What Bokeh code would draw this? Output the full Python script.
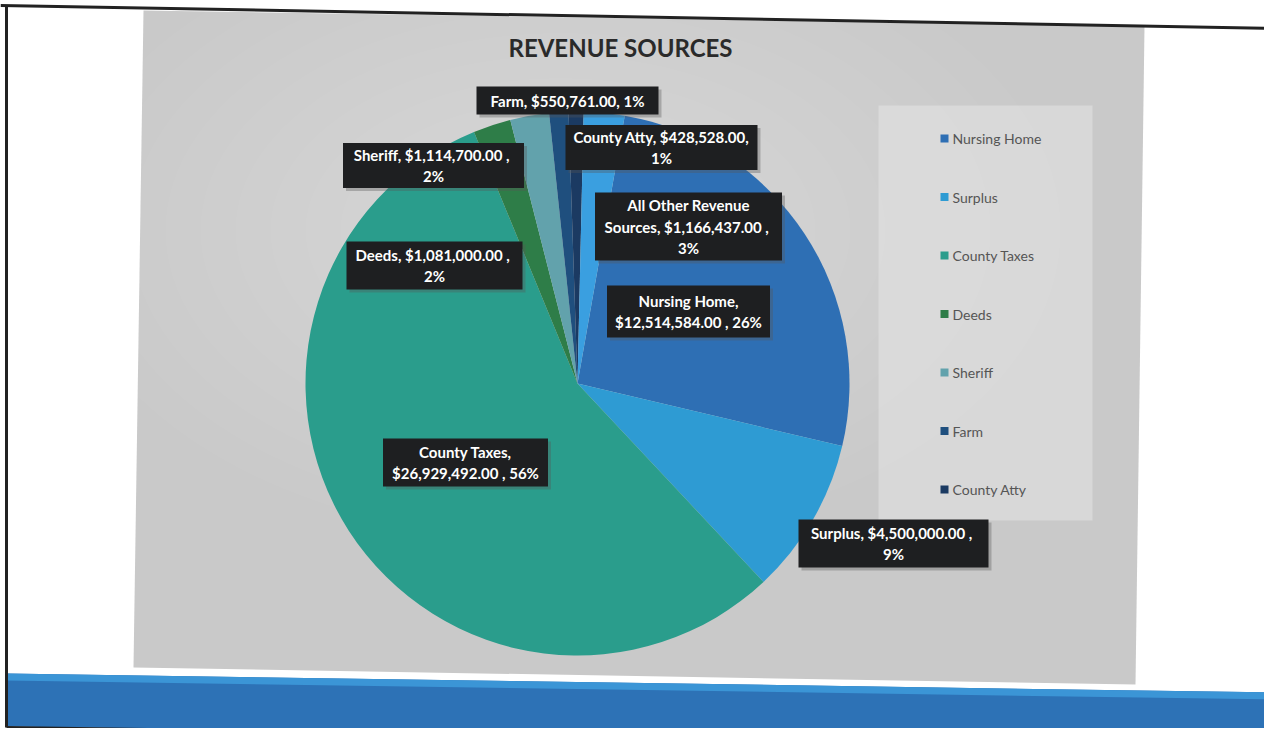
import numpy as np
from bokeh.plotting import figure
from bokeh.models import Range1d, ColumnDataSource
from bokeh.core.properties import value
from bokeh.embed import file_html
from bokeh.resources import INLINE

# ---------------- data ----------------
categories = ["Nursing Home", "Surplus", "County Taxes", "Deeds", "Sheriff",
              "Farm", "County Atty", "All Other Revenue Sources"]
amounts = [12514584.00, 4500000.00, 26929492.00, 1081000.00, 1114700.00,
           550761.00, 428528.00, 1166437.00]
percent_labels = [26, 9, 56, 2, 2, 1, 1, 3]
legend_items = ["Nursing Home", "Surplus", "County Taxes", "Deeds", "Sheriff",
                "Farm", "County Atty"]
title_text = "REVENUE SOURCES"

# ---------------- style ----------------
colors = ["#2E6FB4", "#2E9BD3", "#2A9D8C", "#2E7D48", "#62A2AC",
          "#1F4F7E", "#1B3A62", "#3A9FE0"]
FONT = "Lato"
W, H = 1264, 728


def Y(sy):
    # screenshot pixel row -> data y
    return 744 - sy


p = figure(width=W, height=H, x_range=Range1d(0, W), y_range=Range1d(744 - H, 744),
           output_backend="svg", toolbar_location=None, min_border=0)
p.axis.visible = False
p.grid.visible = False
p.outline_line_color = None
p.background_fill_color = "white"
p.border_fill_color = "white"

# ---------------- slide backdrop (photo of a slide) ----------------
p.patch([143, 1144, 1135, 133], [Y(10), Y(26), Y(684), Y(667)],
        fill_color="#C9C9C9", line_color=None)
# soft lighter zones to mimic the photo's shading
for i in range(12):
    p.ellipse(x=560, y=Y(230), width=1000 - i * 70, height=620 - i * 45,
              fill_color="white", fill_alpha=0.035, line_color=None)
p.quad(left=[878], right=[1092], top=[Y(105)], bottom=[Y(520)],
       fill_color="#E2E2E2", fill_alpha=0.6, line_color=None)

# blue band at bottom
p.patch([6, 1273, 1273, 6], [Y(673), Y(692), Y(744), Y(726)],
        fill_color="#2D72B6", line_color=None)
p.patch([6, 1273, 1273, 6], [Y(673), Y(692), Y(699), Y(680)],
        fill_color="#3B95D6", line_color=None)

# black borders of the printed slide
p.line([0, 1280], [Y(5), Y(28)], line_color="#222222", line_width=3)
p.line([6, 6], [Y(5), Y(727)], line_color="#222222", line_width=3)
p.line([1273, 1273], [Y(28), Y(744)], line_color="#333333", line_width=2)
p.line([6, 1273], [Y(727), Y(745)], line_color="#222222", line_width=3)

# ---------------- pie ----------------
vals = np.array(amounts)
frac = vals / vals.sum()
rotation = np.deg2rad(10)           # first slice angle
cw_end = rotation + np.cumsum(frac) * 2 * np.pi
cw_start = cw_end - frac * 2 * np.pi
src = ColumnDataSource(dict(
    cat=categories, amt=amounts, color=colors,
    start=np.pi / 2 - cw_end, end=np.pi / 2 - cw_start))
cx, cy, r = 577, Y(383), 272
p.wedge(x=cx, y=cy, radius=r, start_angle="start", end_angle="end",
        direction="anticlock", fill_color="color", line_color=None, source=src)

# ---------------- data labels ----------------
def money(v):
    return "${:,.2f}".format(v)

label_layout = {
    "Nursing Home": ((688, 311), (163, 52), ["{n},", "{v} , {p}"]),
    "Surplus": ((893, 543), (190, 48), ["{n},  {v} ,", "{p}"]),
    "County Taxes": ((465, 462), (165, 48), ["{n},", "{v} , {p}"]),
    "Deeds": ((434, 265), (176, 48), ["{n},  {v} ,", "{p}"]),
    "Sheriff": ((433, 165), (181, 45), ["{n},  {v} ,", "{p}"]),
    "Farm": ((567, 100), (182, 28), ["{n}, {v}, {p}"]),
    "County Atty": ((661, 147), (192, 45), ["{n}, {v},", "{p}"]),
    "All Other Revenue Sources": ((688, 226), (187, 68),
                                  ["All Other Revenue", "Sources,  {v} ,", "{p}"]),
}
LINE = 21.5
tx, ty, tt = [], [], []
for name, amt, pc in zip(categories, amounts, percent_labels):
    (lx, ly), (bw, bh), lines = label_layout[name]
    # shadow
    p.quad(left=[lx - bw / 2 + 3], right=[lx + bw / 2 + 3], top=[Y(ly - bh / 2 + 3)],
           bottom=[Y(ly + bh / 2 + 3)], fill_color="#555555", fill_alpha=0.35, line_color=None)
    p.quad(left=[lx - bw / 2], right=[lx + bw / 2], top=[Y(ly - bh / 2)],
           bottom=[Y(ly + bh / 2)], fill_color="#1E1F21", line_color=None)
    n = len(lines)
    for k, ln in enumerate(lines):
        tx.append(lx)
        ty.append(Y(ly + (k - (n - 1) / 2) * LINE))
        tt.append(ln.format(n=name, v=money(amt), p=f"{pc}%"))
p.text(x=tx, y=ty, text=tt, text_align="center", text_baseline="middle",
       text_color="white", text_font=value(FONT), text_font_style="bold",
       text_font_size="15px")

# ---------------- title ----------------
p.text(x=[620], y=[Y(47)], text=[title_text], text_align="center",
       text_baseline="middle", text_color="#2A2A2A", text_font=value(FONT),
       text_font_style="bold", text_font_size="24px")

# ---------------- legend ----------------
lg_x, lg_y0, lg_dy = 940, 138, 58.5
for i, name in enumerate(legend_items):
    yy = lg_y0 + i * lg_dy
    p.quad(left=[lg_x], right=[lg_x + 8], top=[Y(yy - 4)], bottom=[Y(yy + 4)],
           fill_color=colors[categories.index(name)], line_color=None)
    p.text(x=[lg_x + 12], y=[Y(yy)], text=[name], text_align="left",
           text_baseline="middle", text_color="#555555", text_font=value(FONT),
           text_font_size="14px")

open("out.html", "w").write(file_html(p, INLINE))
